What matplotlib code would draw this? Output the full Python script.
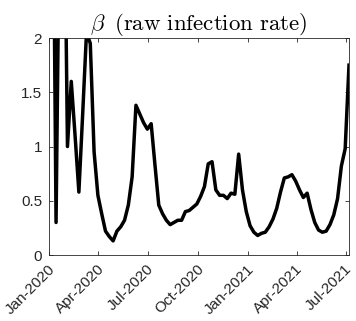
import numpy as np
import matplotlib
matplotlib.use("Agg")
import matplotlib.pyplot as plt
import matplotlib.transforms as mtransforms
import datetime as dt

plt.rcParams['font.family'] = ['Liberation Sans', 'DejaVu Sans']
plt.rcParams['mathtext.fontset'] = 'cm'

# weekly estimates of beta, starting 7 Jan 2020
start = dt.date(2020, 1, 7)
beta = [4.5, 0.30, 3.5, 4.0, 1.00, 1.60, 1.10, 0.58, 1.30, 2.05,
        1.95, 0.95, 0.55, 0.38, 0.22, 0.17, 0.13, 0.22, 0.26, 0.32,
        0.46, 0.72, 1.38, 1.30, 1.22, 1.16, 1.21, 0.83, 0.46, 0.38,
        0.32, 0.28, 0.30, 0.32, 0.32, 0.40, 0.41, 0.44, 0.47, 0.54,
        0.63, 0.84, 0.86, 0.60, 0.55, 0.55, 0.52, 0.57, 0.56, 0.93,
        0.60, 0.40, 0.27, 0.21, 0.18, 0.20, 0.21, 0.26, 0.33, 0.43,
        0.58, 0.71, 0.72, 0.74, 0.68, 0.60, 0.53, 0.57, 0.42, 0.30,
        0.23, 0.21, 0.22, 0.28, 0.37, 0.52, 0.82, 0.98, 1.75]
dates = [start + dt.timedelta(days=7 * i) for i in range(len(beta))]

tick_dates = [dt.date(2020, 1, 1), dt.date(2020, 4, 1), dt.date(2020, 7, 1),
              dt.date(2020, 10, 1), dt.date(2021, 1, 1), dt.date(2021, 4, 1),
              dt.date(2021, 7, 1)]
tick_labels = ['Jan-2020', 'Apr-2020', 'Jul-2020', 'Oct-2020',
               'Jan-2021', 'Apr-2021', 'Jul-2021']
y_ticks = [0, 0.5, 1, 1.5, 2]
y_labels = ['0', '0.5', '1', '1.5', '2']

gray = '#262626'

fig = plt.figure(figsize=(3.56, 3.21), dpi=100)
ax = fig.add_axes([0.1376, 0.2056, 0.8427, 0.676])
ax.plot(dates, beta, color='k', lw=2.5, solid_joinstyle='round')

ax.set_xlim(dt.date(2020, 1, 1), dates[-1])
ax.set_ylim(0, 2)
ax.set_xticks(tick_dates)
ax.set_xticklabels([])
ax.set_yticks(y_ticks)
ax.set_yticklabels(y_labels, fontsize=11)

# rotated date labels, placed by hand so they can sit a little right of the tick
shift = mtransforms.ScaledTranslation(3.5 / 100, -12 / 100, fig.dpi_scale_trans)
for d, lab in zip(tick_dates, tick_labels):
    ax.text(d, 0, lab, transform=ax.get_xaxis_transform() + shift,
            rotation=45, ha='right', va='center', rotation_mode='anchor',
            fontsize=11, color=gray)

for s in ax.spines.values():
    s.set_color(gray)
    s.set_linewidth(0.6)
ax.tick_params(direction='in', length=3, width=0.6, color=gray,
               labelcolor=gray, top=True, right=True)
ax.tick_params(axis='y', pad=5)

ax.set_title(r'$\beta\;\;\mathrm{(raw\ infection\ rate)}$', fontsize=16.5, pad=5)

fig.savefig('out.png', dpi=100)
